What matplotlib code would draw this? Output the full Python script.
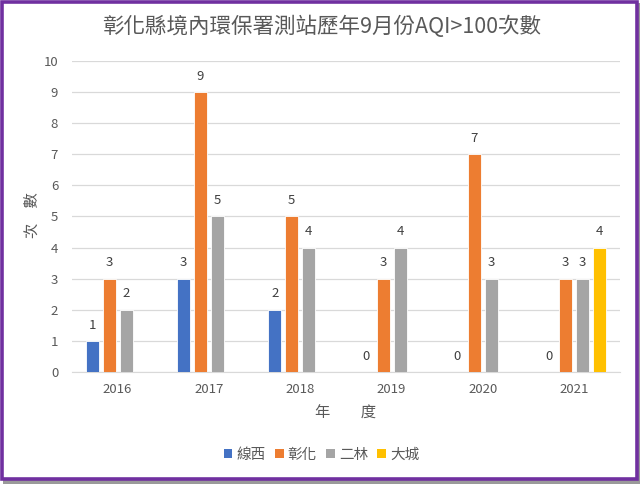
import matplotlib.pyplot as plt
import numpy as np
from matplotlib.patches import Rectangle, Patch

plt.rcParams['font.family'] = ['Noto Sans CJK TC', 'DejaVu Sans']

YEARS = ["2016", "2017", "2018", "2019", "2020", "2021"]
STATIONS = ["線西", "彰化", "二林", "大城"]
COUNTS_XIANXI = [1, 3, 2, 0, 0, 0]
COUNTS_CHANGHUA = [3, 9, 5, 3, 7, 3]
COUNTS_ERLIN = [2, 5, 4, 4, 3, 3]
COUNTS_DACHENG = [None, None, None, None, None, 4]
Y_TICKS = list(range(0, 11))

COLORS = ['#4472C4', '#ED7D31', '#A5A5A5', '#FFC000']
TEXT = '#595959'

fig = plt.figure(figsize=(6.43, 4.84), dpi=100)

# purple frame with a small grey shadow
fig.patches.append(Rectangle((3 / 643, 0), 637 / 643, 481 / 484, transform=fig.transFigure,
                             facecolor='#9A9A9A', edgecolor='none', zorder=-2))
fig.patches.append(Rectangle((1.5 / 643, 5.5 / 484), 635 / 643, 477 / 484, transform=fig.transFigure,
                             facecolor='white', edgecolor='#7030A0', linewidth=2.6, zorder=-1))

ax = fig.add_axes([0.112, 0.2314, 0.852, 0.6426])
ax.set_facecolor('none')
ax.set_zorder(2)

x = np.arange(len(YEARS))
width = 0.142
step = 0.186
series = [COUNTS_XIANXI, COUNTS_CHANGHUA, COUNTS_ERLIN, COUNTS_DACHENG]
for i, (name, vals) in enumerate(zip(STATIONS, series)):
    pos = x + (i - 1.5) * step
    for p, v in zip(pos, vals):
        if v is None:
            continue
        ax.bar(p, v, width, color=COLORS[i], edgecolor='white', linewidth=0.6, zorder=3)
        ax.text(p, v + 0.3, str(v), ha='center', va='bottom', fontsize=9.5, color='#404040')

ax.set_xlim(-0.5, len(YEARS) - 0.5)
ax.set_ylim(0, 10)
ax.set_yticks(Y_TICKS)
ax.set_xticks(x)
ax.set_xticklabels(YEARS)
ax.tick_params(axis='both', length=0, labelsize=9.5, labelcolor=TEXT)
ax.tick_params(axis='y', pad=10)
ax.tick_params(axis='x', pad=8)
ax.grid(axis='y', color='#D9D9D9', linewidth=0.9, zorder=0)
for s in ['top', 'right', 'left']:
    ax.spines[s].set_visible(False)
ax.spines['bottom'].set_color('#D9D9D9')

fig.text(32 / 643, 1 - 215 / 484, "次　數", rotation=90, ha='center', va='center',
         fontsize=11, color=TEXT)
ax.set_xlabel("年　　度", fontsize=11, color=TEXT, labelpad=6)

fig.text(0.5, 0.944, "彰化縣境內環保署測站歷年9月份AQI>100次數", ha='center', va='center',
         fontsize=15.5, color=TEXT)

handles = [Patch(facecolor=c, edgecolor='none') for c in COLORS]
fig.legend(handles, STATIONS, loc='center', bbox_to_anchor=(0.5, 0.06), ncol=4, frameon=False,
           fontsize=10.5, labelcolor=TEXT, handlelength=0.6, handleheight=0.6,
           handletextpad=0.3, columnspacing=0.6)

fig.savefig("out.png", dpi=100)
